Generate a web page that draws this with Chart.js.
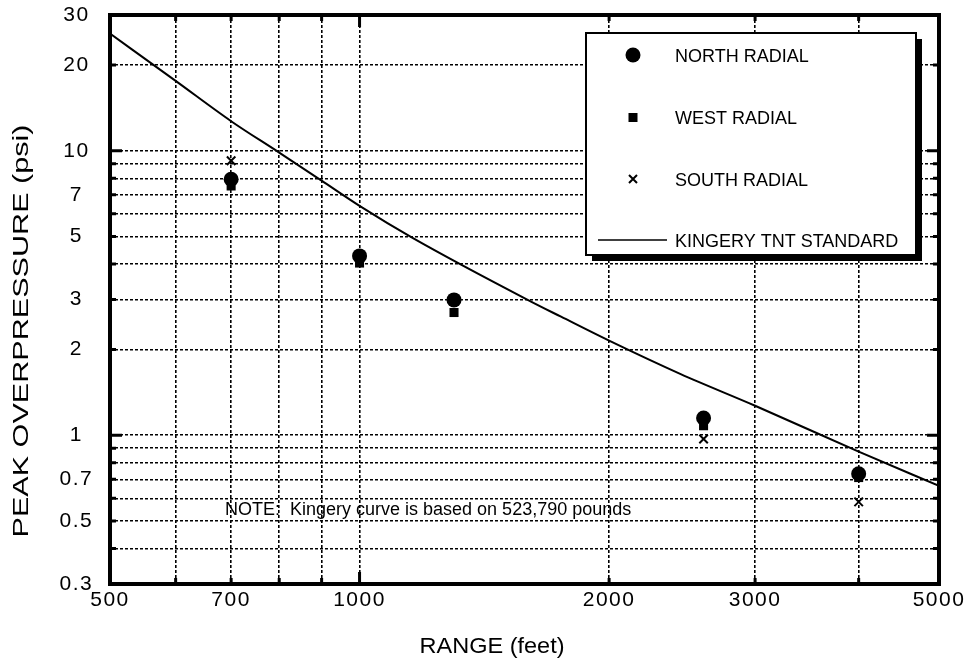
<!DOCTYPE html>
<html>
<head>
<meta charset="utf-8">
<script src="https://cdn.jsdelivr.net/npm/chart.js@4.4.1/dist/chart.umd.min.js"></script>
<style>
  html, body { margin: 0; padding: 0; background: #fff; }
</style>
</head>
<body>
<canvas id="blastChart" width="971" height="663"></canvas>
<script>
// gauge stations (range in feet) and measured peak overpressure (psi)
const ranges = [700, 1000, 1300, 2600, 4000];
const northRadial = [7.94, 4.27, 2.99, 1.15, 0.732];
const westRadial = [7.52, 4.03, 2.70, 1.08, 0.71];
const southRadial = [9.22, null, null, 0.97, 0.583];

// Kingery TNT standard curve
const kingeryRange = [500, 600, 700, 800, 900, 1000, 1160, 1610, 1750, 2000, 2440, 3000, 4000, 5000];
const kingeryPsi = [25.8, 17.6, 12.7, 9.85, 7.85, 6.4, 4.93, 2.95, 2.61, 2.15, 1.64, 1.27, 0.876, 0.664];

// grid / tick values
const xTicks = [500, 600, 700, 800, 900, 1000, 2000, 3000, 4000, 5000];
const xLabels = [500, 700, 1000, 2000, 3000, 5000];
const yTicks = [0.3, 0.4, 0.5, 0.6, 0.7, 0.8, 0.9, 1, 2, 3, 4, 5, 6, 7, 8, 9, 10, 20, 30];
const yLabels = [0.3, 0.5, 0.7, 1, 2, 3, 5, 7, 10, 20, 30];

const legendItems = ['NORTH RADIAL', 'WEST RADIAL', 'SOUTH RADIAL', 'KINGERY TNT STANDARD'];

const toPoints = (xs, ys) => xs.map((x, i) => ({ x: x, y: ys[i] })).filter(p => p.y !== null);

const FONT = '"Liberation Sans", Arial, Helvetica, sans-serif';

// draws text squeezed/stretched to a given width (the scan's lettering is wide)
function fitText(ctx, text, x, y, width, rot) {
    ctx.save();
    ctx.translate(x, y);
    if (rot) ctx.rotate(rot);
    const w = ctx.measureText(text).width;
    ctx.scale(width / w, 1);
    ctx.fillText(text, 0, 0);
    ctx.restore();
}

const framePlugin = {
    id: 'frame',
    beforeDraw(chart) {
        chart.ctx.letterSpacing = '1.5px';
    },
    afterDraw(chart) {
        const ctx = chart.ctx;
        const a = chart.chartArea;
        const xs = chart.scales.x, ys = chart.scales.y;
        ctx.save();
        ctx.letterSpacing = '0px';
        ctx.strokeStyle = '#000';
        ctx.fillStyle = '#000';

        // inward tick marks on all four sides
        ctx.lineWidth = 3;
        xTicks.forEach(v => {
            const px = xs.getPixelForValue(v);
            const len = (v === 1000) ? 12 : 6;
            ctx.beginPath();
            ctx.moveTo(px, a.bottom); ctx.lineTo(px, a.bottom - len);
            ctx.moveTo(px, a.top); ctx.lineTo(px, a.top + len);
            ctx.stroke();
        });
        yTicks.forEach(v => {
            const py = ys.getPixelForValue(v);
            const len = (v === 1 || v === 10) ? 12 : 6;
            ctx.beginPath();
            ctx.moveTo(a.left, py); ctx.lineTo(a.left + len, py);
            ctx.moveTo(a.right, py); ctx.lineTo(a.right - len, py);
            ctx.stroke();
        });

        // heavy frame
        ctx.lineWidth = 4;
        ctx.strokeRect(a.left, a.top, a.right - a.left, a.bottom - a.top);

        // legend box with drop shadow
        const bx = 586, by = 33, bw = 330, bh = 222;
        ctx.fillRect(bx + 6, by + 6, bw, bh);
        ctx.fillStyle = '#fff';
        ctx.fillRect(bx, by, bw, bh);
        ctx.lineWidth = 2;
        ctx.strokeRect(bx, by, bw, bh);
        ctx.fillStyle = '#000';

        const mx = 633;
        ctx.beginPath();
        ctx.arc(mx, 55, 7.5, 0, Math.PI * 2);
        ctx.fill();
        ctx.fillRect(mx - 4.5, 113, 9, 9);
        ctx.lineWidth = 2;
        ctx.beginPath();
        ctx.moveTo(mx - 4, 175); ctx.lineTo(mx + 4, 183);
        ctx.moveTo(mx + 4, 175); ctx.lineTo(mx - 4, 183);
        ctx.stroke();
        ctx.lineWidth = 1.5;
        ctx.beginPath();
        ctx.moveTo(598, 240); ctx.lineTo(667, 240);
        ctx.stroke();

        ctx.font = '18px ' + FONT;
        ctx.textAlign = 'left';
        ctx.textBaseline = 'alphabetic';
        const baselines = [62, 124, 186, 247];
        legendItems.forEach((t, i) => ctx.fillText(t, 675, baselines[i]));

        // note
        ctx.fillText('NOTE:  Kingery curve is based on 523,790 pounds', 225, 515);

        // axis titles
        ctx.font = '22px ' + FONT;
        ctx.textAlign = 'center';
        fitText(ctx, 'RANGE (feet)', 492, 653, 145, 0);
        fitText(ctx, 'PEAK OVERPRESSURE (psi)', 28, 331, 413, -Math.PI / 2);
        ctx.restore();
    }
};

const gridOpts = { color: '#000', lineWidth: 1.6, drawTicks: false };
const borderOpts = { display: false, dash: [3, 2] };

new Chart(document.getElementById('blastChart').getContext('2d'), {
    type: 'scatter',
    data: {
        datasets: [
            {
                label: legendItems[0],
                data: toPoints(ranges, northRadial),
                pointStyle: 'circle',
                pointRadius: 7.5,
                backgroundColor: '#000',
                borderColor: '#000',
                borderWidth: 0
            },
            {
                label: legendItems[1],
                data: toPoints(ranges, westRadial),
                pointStyle: 'rect',
                pointRadius: 6.4,
                backgroundColor: '#000',
                borderColor: '#000',
                borderWidth: 0
            },
            {
                label: legendItems[2],
                data: toPoints(ranges, southRadial),
                pointStyle: 'crossRot',
                pointRadius: 6,
                borderColor: '#000',
                borderWidth: 2
            },
            {
                label: legendItems[3],
                data: toPoints(kingeryRange, kingeryPsi),
                showLine: true,
                pointRadius: 0,
                borderColor: '#000',
                borderWidth: 2,
                cubicInterpolationMode: 'monotone'
            }
        ]
    },
    options: {
        responsive: false,
        animation: false,
        layout: { padding: { left: 0, top: 15, right: 32, bottom: 0 } },
        scales: {
            x: {
                type: 'logarithmic',
                min: 500,
                max: 5000,
                afterFit: s => { s.height = 79; s.paddingLeft = 0; s.paddingRight = 0; },
                afterBuildTicks: s => { s.ticks = xTicks.map(v => ({ value: v })); },
                grid: gridOpts,
                border: borderOpts,
                ticks: {
                    autoSkip: false,
                    maxRotation: 0,
                    padding: 4,
                    color: '#000',
                    font: { family: FONT, size: 21 },
                    callback: v => xLabels.includes(v) ? String(v) : ''
                }
            },
            y: {
                type: 'logarithmic',
                min: 0.3,
                max: 30,
                afterFit: s => { s.width = 110; s.paddingTop = 0; s.paddingBottom = 0; },
                afterBuildTicks: s => { s.ticks = yTicks.map(v => ({ value: v })); },
                grid: gridOpts,
                border: borderOpts,
                ticks: {
                    autoSkip: false,
                    padding: 19,
                    crossAlign: 'center',
                    color: '#000',
                    font: { family: FONT, size: 21 },
                    callback: v => yLabels.includes(v) ? String(v) : ''
                }
            }
        },
        plugins: {
            legend: { display: false },
            tooltip: { enabled: false }
        }
    },
    plugins: [framePlugin]
});
</script>
</body>
</html>
